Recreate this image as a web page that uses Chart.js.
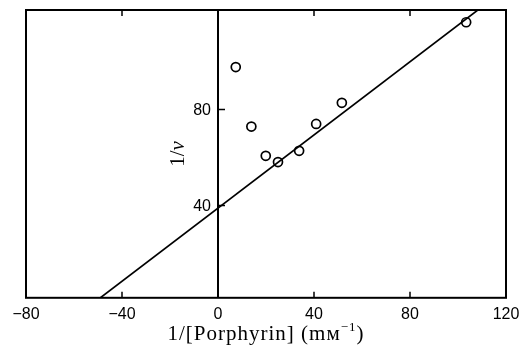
<!DOCTYPE html>
<html>
<head>
<meta charset="utf-8">
<script src="https://cdn.jsdelivr.net/npm/chart.js@4/dist/chart.umd.min.js"></script>
<style>
  html, body { margin: 0; padding: 0; background: #fff; }
  canvas { display: block; }
</style>
</head>
<body>
<canvas id="chart" width="531" height="345"></canvas>
<script>
// measured points (1/[Porphyrin], 1/v)
const invPorphyrin = [7.4, 13.9, 19.9, 25.0, 33.8, 40.9, 51.6, 103.4];
const invRate = [97.7, 72.9, 60.7, 58.1, 62.8, 74.0, 82.8, 116.4];

// fitted line end points
const fitX = [-51, 110];
const fitY = [0, 122.8];

const xTicks = [-80, -40, 0, 40, 80, 120];
const yTicks = [40, 80];
const frameTicks = [-40, 40, 80];

const serif = "'Liberation Serif', 'DejaVu Serif', serif";

// frame, inward ticks, y labels on the zero line and both axis titles
const framePlugin = {
    id: "frame",
    afterDatasetsDraw(chart) {
        const ctx = chart.ctx;
        const a = chart.chartArea;
        const xs = chart.scales.x;
        const ys = chart.scales.y;
        ctx.save();
        ctx.strokeStyle = "#000";
        ctx.lineWidth = 2;
        ctx.strokeRect(a.left, a.top, a.right - a.left, a.bottom - a.top);

        ctx.lineWidth = 1.5;
        ctx.beginPath();
        frameTicks.forEach(v => {
            const px = xs.getPixelForValue(v);
            ctx.moveTo(px, a.bottom);
            ctx.lineTo(px, a.bottom - 6);
            ctx.moveTo(px, a.top);
            ctx.lineTo(px, a.top + 6);
        });
        const zx = xs.getPixelForValue(0);
        yTicks.forEach(v => {
            const py = ys.getPixelForValue(v);
            ctx.moveTo(zx, py);
            ctx.lineTo(zx + 7, py);
        });
        ctx.stroke();

        // zero line
        ctx.lineWidth = 2;
        ctx.beginPath();
        ctx.moveTo(zx, a.top);
        ctx.lineTo(zx, a.bottom);
        ctx.stroke();

        // y tick labels left of the zero line
        ctx.fillStyle = "#000";
        ctx.font = "16px 'Liberation Sans'";
        ctx.textAlign = "right";
        ctx.textBaseline = "middle";
        yTicks.forEach(v => {
            ctx.fillText(String(v), zx - 7, ys.getPixelForValue(v) + 1);
        });

        // x title with small-caps M and superscript -1
        ctx.save();
        ctx.letterSpacing = "1px";
        ctx.textAlign = "left";
        ctx.textBaseline = "alphabetic";
        const main = "1/[Porphyrin] (m\u1D0D";
        const sup = "\u2212" + "1";
        const f1 = "21px " + serif;
        const f2 = "13px " + serif;
        ctx.font = f1;
        const wMain = ctx.measureText(main).width;
        const wClose = ctx.measureText(")").width;
        ctx.font = f2;
        const wSup = ctx.measureText(sup).width;
        let tx = (a.left + a.right) / 2 - (wMain + wSup + wClose) / 2;
        const ty = 340;
        ctx.font = f1;
        ctx.fillText(main, tx, ty);
        ctx.font = f2;
        ctx.fillText(sup, tx + wMain, ty - 9);
        ctx.font = f1;
        ctx.fillText(")", tx + wMain + wSup, ty);
        ctx.restore();

        // y title: "1/" upright, "v" italic, reading upwards
        ctx.translate(zx - 40, (a.top + a.bottom) / 2);
        ctx.rotate(-Math.PI / 2);
        ctx.textBaseline = "middle";
        ctx.textAlign = "left";
        const g1 = "21px " + serif;
        const g2 = "italic 21px " + serif;
        ctx.font = g1;
        const w1 = ctx.measureText("1/").width;
        ctx.font = g2;
        const w2 = ctx.measureText("v").width;
        const sx = -(w1 + w2) / 2;
        ctx.font = g1;
        ctx.fillText("1/", sx, 0);
        ctx.font = g2;
        ctx.fillText("v", sx + w1, 0);
        ctx.restore();
    }
};

const points = invPorphyrin.map((x, i) => ({ x: x, y: invRate[i] }));
const fitLine = fitX.map((x, i) => ({ x: x, y: fitY[i] }));

new Chart(document.getElementById("chart"), {
    type: "scatter",
    data: {
        datasets: [
            {
                data: fitLine,
                showLine: true,
                borderColor: "#000",
                borderWidth: 1.7,
                pointRadius: 0,
                fill: false
            },
            {
                data: points,
                pointRadius: 4.5,
                pointBorderWidth: 1.7,
                pointBorderColor: "#000",
                pointBackgroundColor: "#fff"
            }
        ]
    },
    options: {
        responsive: false,
        animation: false,
        layout: { padding: { left: 26, right: 25, top: 10, bottom: 14 } },
        plugins: {
            legend: { display: false },
            tooltip: { enabled: false }
        },
        scales: {
            x: {
                type: "linear",
                min: -80,
                max: 120,
                afterBuildTicks: s => { s.ticks = xTicks.map(v => ({ value: v })); },
                grid: { display: false, drawTicks: false },
                border: { display: false },
                ticks: {
                    color: "#000",
                    padding: 7,
                    font: { family: "Liberation Sans", size: 16 },
                    callback: v => (v < 0 ? "\u2212" + Math.abs(v) : String(v))
                },
                title: { display: false }
            },
            y: {
                type: "linear",
                min: 1.5,
                max: 121.5,
                display: false,
                afterBuildTicks: s => { s.ticks = yTicks.map(v => ({ value: v })); }
            }
        }
    },
    plugins: [framePlugin]
});
</script>
</body>
</html>
